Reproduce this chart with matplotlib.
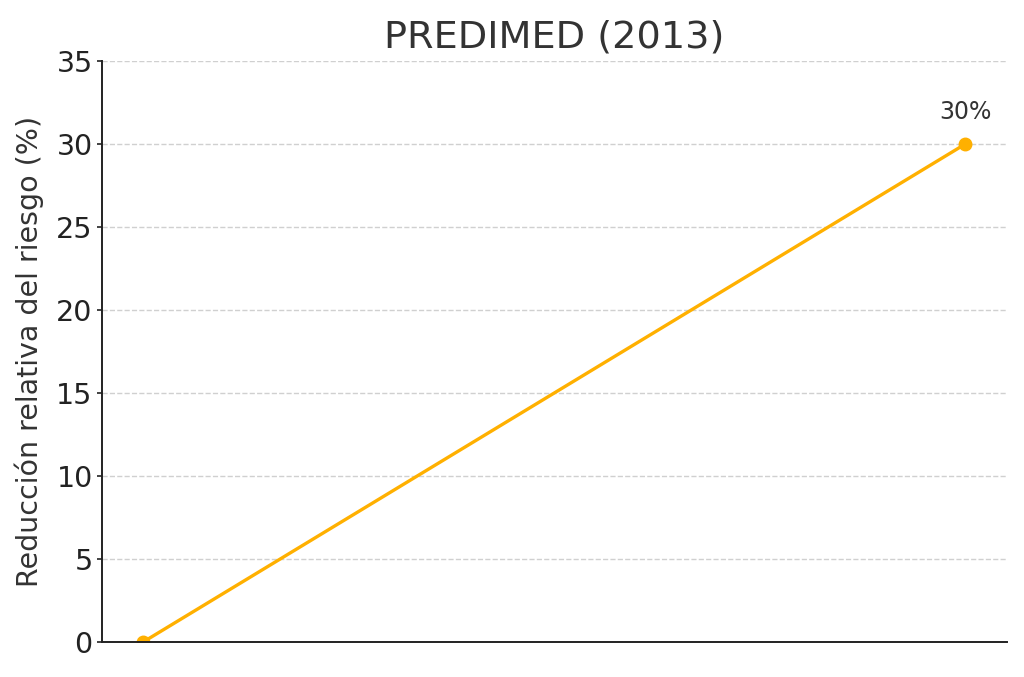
import matplotlib.pyplot as plt

# data
x_pos = [0, 1]
reduction = [0, 30]
point_labels = ['', '30%']
y_ticks = [0, 5, 10, 15, 20, 25, 30, 35]

plt.rcParams['font.family'] = ['DejaVu Sans']
plt.rcParams['text.color'] = '#333333'
plt.rcParams['axes.labelcolor'] = '#333333'
plt.rcParams['xtick.color'] = '#333333'
plt.rcParams['ytick.color'] = '#222222'

fig, ax = plt.subplots(figsize=(10.24, 6.77), dpi=100)
fig.subplots_adjust(left=0.1, right=0.983, top=0.91, bottom=0.052)

ax.plot(x_pos, reduction, color='#FFB000', linewidth=2.4, marker='o', markersize=9)
for xi, yi, lab in zip(x_pos, reduction, point_labels):
    if lab:
        ax.annotate(lab, (xi, yi), xytext=(0, 18), textcoords='offset points',
                    ha='center', fontsize=17, color='#333333')

ax.set_ylim(0, 35)
ax.set_yticks(y_ticks)
ax.set_xticks([])
ax.tick_params(axis='y', labelsize=20.5, length=3.5, width=1.2, labelcolor='#222222')
ax.set_ylabel('Reducción relativa del riesgo (%)', fontsize=20.5, labelpad=9)
ax.set_title('PREDIMED (2013)', fontsize=27.5, pad=10)
ax.yaxis.grid(True, linestyle='--', color='#d0d0d0', linewidth=1)
ax.set_axisbelow(True)
for side in ['top', 'right']:
    ax.spines[side].set_visible(False)
for side in ['left', 'bottom']:
    ax.spines[side].set_linewidth(1.4)
    ax.spines[side].set_color('#222222')

fig.savefig('out.png')
